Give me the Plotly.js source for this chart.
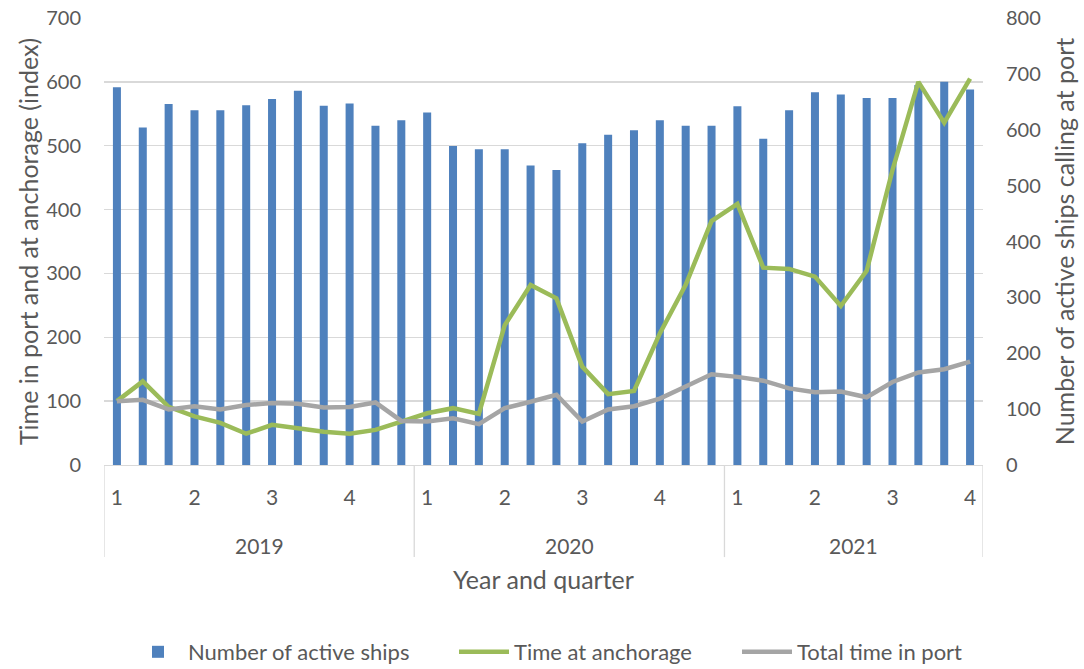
<!DOCTYPE html>
<html><head><meta charset="utf-8">
<script src="https://cdn.plot.ly/plotly-3.0.1.min.js"></script>
<style>html,body{margin:0;padding:0;background:#fff}</style>
</head><body><div id="chart" style="width:1084px;height:669px"></div>
<script>
const years = ["2019", "2020", "2021"];
const monthsPerYear = [12, 12, 10];
const quarterLabels = ["1", "2", "3", "4"];
const activeShips = [676, 604, 646, 635, 635, 644, 655, 670, 643, 647, 607, 617,
                     631, 571, 565, 565, 536, 528, 576, 591, 599, 617, 607, 607,
                     642, 584, 635, 667, 663, 657, 657, 680, 686, 672];
const timeAtAnchorage = [100, 131, 91, 76, 66, 49, 63, 57, 52, 49, 55, 68,
                         81, 89, 80, 219, 282, 261, 154, 111, 116, 206, 282, 382,
                         409, 309, 307, 295, 249, 304, 462, 600, 536, 605];
const totalTimeInPort = [100, 102, 87, 92, 87, 94, 97, 96, 90, 91, 98, 69,
                         68, 73, 64, 89, 99, 110, 68, 87, 92, 104, 123, 142,
                         138, 132, 120, 114, 115, 106, 130, 145, 150, 162];

// build category index positions
const xIdx = [];
const tickVals = [], tickText = [];
const yearStarts = [];
let k = 0;
years.forEach((y, yi) => {
  yearStarts.push(k);
  for (let m = 0; m < monthsPerYear[yi]; m++) {
    if (m % 3 === 0) { tickVals.push(k); tickText.push(quarterLabels[m / 3]); }
    xIdx.push(k); k++;
  }
});
const nCat = k;

const txt = '#595959';
const fontFam = 'Lato, "Open Sans", sans-serif';

const traces = [
  {type: 'bar', name: 'Number of active ships', x: xIdx, y: activeShips, yaxis: 'y',
   marker: {color: '#4F81BD'}, width: 0.31, legend: 'legend'},
  {type: 'scatter', mode: 'lines', name: 'Time at anchorage', x: xIdx, y: timeAtAnchorage, yaxis: 'y2',
   line: {color: '#9BBB59', width: 4.5}, legend: 'legend2'},
  {type: 'scatter', mode: 'lines', name: 'Total time in port', x: xIdx, y: totalTimeInPort, yaxis: 'y2',
   line: {color: '#A5A5A5', width: 4.5}, legend: 'legend3'}
];

const shapes = [];
const annotations = [];
const bounds = yearStarts.concat([nCat]);
bounds.forEach(b => {
  shapes.push({type: 'line', xref: 'x', yref: 'paper', x0: b - 0.5, x1: b - 0.5, y0: 0, y1: -0.206,
               line: {color: '#D9D9D9', width: 1.3}});
});
years.forEach((y, yi) => {
  const c = (bounds[yi] - 0.5 + bounds[yi + 1] - 0.5) / 2;
  annotations.push({text: y, xref: 'x', yref: 'paper', x: c, y: -0.179, showarrow: false,
                    font: {size: 21, color: txt, family: fontFam}, yanchor: 'middle'});
});
annotations.push({text: 'Year and quarter', xref: 'paper', yref: 'paper', x: 0.5, y: -0.255,
                  showarrow: false, font: {size: 25, color: txt, family: fontFam}, yanchor: 'middle'});

function legendAt(px) {
  return {orientation: 'h', xref: 'container', yref: 'container', x: px / 1084, xanchor: 'left',
          y: 0.0254, yanchor: 'middle', itemwidth: 50, bgcolor: 'rgba(0,0,0,0)',
          font: {size: 22, color: txt, family: fontFam}};
}

const layout = {
  width: 1084, height: 669,
  margin: {l: 104, r: 101, t: 18, b: 204},
  paper_bgcolor: '#fff', plot_bgcolor: '#fff',
  font: {family: fontFam, color: txt, size: 20},
  showlegend: true,
  legend: legendAt(128),
  legend2: legendAt(454),
  legend3: legendAt(737),
  bargap: 0.69,
  xaxis: {range: [-0.5, nCat - 0.5], tickmode: 'array', tickvals: tickVals, ticktext: tickText,
          showgrid: false, zeroline: false, showline: true, linecolor: '#D9D9D9', linewidth: 1,
          ticks: '', ticklabelstandoff: 14, tickfont: {size: 21, color: txt}, fixedrange: true},
  yaxis: {side: 'right', range: [0, 800], dtick: 100, showgrid: false, zeroline: false,
          ticks: '', tickfont: {size: 20, color: txt}, ticklabelstandoff: 22,
          title: {text: 'Number of active ships calling at port', font: {size: 25, color: txt}, standoff: 16}},
  yaxis2: {overlaying: 'y', side: 'left', range: [0, 700], dtick: 100, showgrid: true,
           gridcolor: '#D9D9D9', gridwidth: 1.3, zeroline: false, ticks: '',
           tickfont: {size: 20, color: txt}, ticklabelstandoff: 22,
           title: {text: 'Time in port and at anchorage (index)', font: {size: 25, color: txt}, standoff: 0}},
  shapes: shapes,
  annotations: annotations
};

Plotly.newPlot('chart', traces, layout, {displayModeBar: false, staticPlot: true});
</script>
</body></html>
